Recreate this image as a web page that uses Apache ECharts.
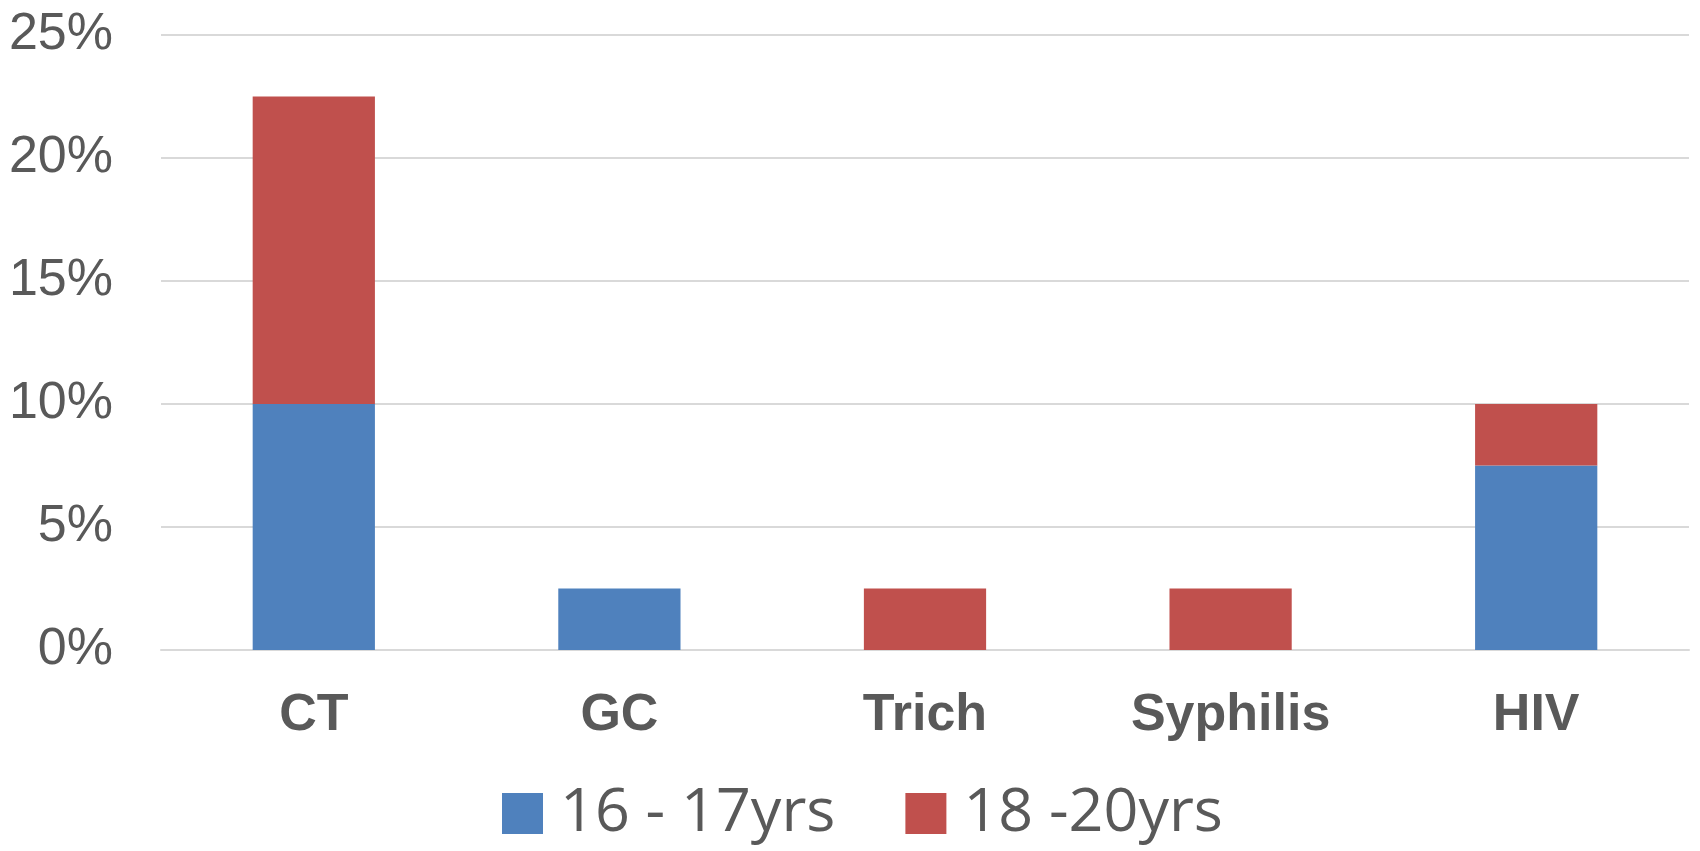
<!DOCTYPE html>
<html>
<head>
<meta charset="utf-8">
<script src="https://cdn.jsdelivr.net/npm/echarts@6/dist/echarts.min.js"></script>
<style>
html,body{margin:0;padding:0;background:#fff;}
#main{width:1700px;height:851px;}
</style>
</head>
<body>
<div id="main"></div>
<script>
const categories = ['CT', 'GC', 'Trich', 'Syphilis', 'HIV'];
const seriesNames = ['16 - 17yrs', '18 -20yrs'];
const age16to17 = [10, 2.5, 0, 0, 7.5];
const age18to20 = [12.5, 0, 2.5, 2.5, 2.5];
const yTicks = { min: 0, max: 25, interval: 5 };

const chart = echarts.init(document.getElementById('main'), null, { renderer: 'canvas' });
chart.setOption({
  backgroundColor: '#ffffff',
  animation: false,
  grid: { left: 161, right: 11, top: 35, bottom: 201, containLabel: false },
  legend: {
    data: seriesNames,
    left: 497,
    top: 778,
    itemWidth: 41,
    itemHeight: 41,
    itemGap: 70,
    icon: 'rect',
    textStyle: {
      fontFamily: '"Open Sans", sans-serif',
      fontSize: 61,
      color: '#595959',
      padding: [0, 0, 0, 12]
    }
  },
  xAxis: {
    type: 'category',
    data: categories,
    axisTick: { show: false },
    axisLine: { show: true, lineStyle: { color: '#d9d9d9', width: 2 } },
    axisLabel: {
      margin: 40,
      fontFamily: '"Liberation Sans", Arial, sans-serif',
      fontWeight: 'bold',
      fontSize: 52,
      color: '#595959'
    }
  },
  yAxis: {
    type: 'value',
    min: yTicks.min,
    max: yTicks.max,
    interval: yTicks.interval,
    axisLine: { show: false },
    axisTick: { show: false },
    splitLine: { lineStyle: { color: '#d9d9d9', width: 2 } },
    axisLabel: {
      margin: 48,
      formatter: '{value}%',
      fontFamily: '"Liberation Sans", Arial, sans-serif',
      fontSize: 52,
      color: '#595959'
    }
  },
  series: [
    {
      name: seriesNames[0],
      type: 'bar',
      stack: 'total',
      barWidth: '40%',
      data: age16to17,
      itemStyle: { color: '#4F81BD' }
    },
    {
      name: seriesNames[1],
      type: 'bar',
      stack: 'total',
      barWidth: '40%',
      data: age18to20,
      itemStyle: { color: '#C0504D' }
    }
  ]
});
</script>
</body>
</html>
